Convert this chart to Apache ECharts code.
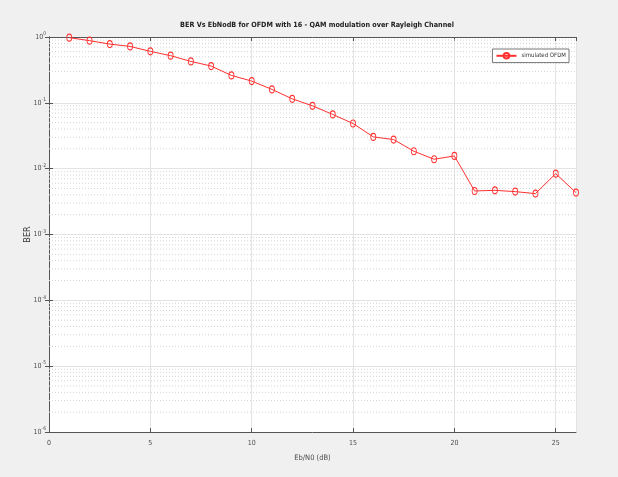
<!DOCTYPE html>
<html>
<head>
<meta charset="utf-8">
<script src="https://cdn.jsdelivr.net/npm/echarts@6/dist/echarts.min.js"></script>
<style>
  html, body { margin: 0; padding: 0; background: #f0f0f0; }
  #chart { width: 618px; height: 477px; }
</style>
</head>
<body>
<div id="chart"></div>
<script>
// Eb/N0 values (dB)
const ebno = [1, 2, 3, 4, 5, 6, 7, 8, 9, 10, 11, 12, 13, 14, 15, 16, 17, 18, 19, 20, 21, 22, 23, 24, 25, 26];
// simulated OFDM BER
const berSim = [0.977, 0.88, 0.78, 0.72, 0.605, 0.52, 0.426, 0.362, 0.261, 0.214, 0.16, 0.115, 0.09, 0.0666,
  0.0485, 0.0304, 0.0277, 0.0184, 0.0139, 0.0156, 0.00458, 0.00469, 0.00448, 0.00418, 0.0084, 0.00433];
const xTicks = [0, 5, 10, 15, 20, 25];
const yExponents = [0, -1, -2, -3, -4, -5, -6];

// dotted minor grid at 2..9 x 10^k (MATLAB style)
const minorGrid = [];
for (let e = -6; e < 0; e++) {
  for (let m = 2; m <= 9; m++) minorGrid.push(m * Math.pow(10, e));
}

const font = "DejaVu Sans Condensed, Liberation Sans, Arial, sans-serif";
const txt = "#4d4d4d";
const axisCol = "#555555";
const red = "#ff3030";

// one thin dotted series per minor grid value, spanning the x range
const gridSeries = minorGrid.map(v => ({
  name: "minor",
  type: "line",
  silent: true,
  symbol: "none",
  animation: false,
  z: 1,
  lineStyle: { color: "#d4d4d4", type: [1, 2], width: 1 },
  data: [[0, v], [26, v]]
}));

const chart = echarts.init(document.getElementById("chart"));

chart.setOption({
  backgroundColor: "#f0f0f0",
  animation: false,
  title: {
    text: "BER Vs EbNodB for OFDM with 16 - QAM modulation over Rayleigh Channel",
    left: 312,
    textAlign: "center",
    top: 17,
    textStyle: { fontFamily: font, fontSize: 7.2, fontWeight: "bold", color: "#222" }
  },
  legend: {
    right: 49,
    top: 49,
    orient: "vertical",
    backgroundColor: "#fff",
    borderColor: "#777",
    borderWidth: 1,
    borderRadius: 0,
    padding: [3, 3, 3, 3],
    itemWidth: 20,
    itemHeight: 7,
    itemGap: 4,
    textStyle: { fontFamily: font, fontSize: 6, color: "#333" },
    data: ["simulated OFDM"]
  },
  grid: { left: 49, right: 42, top: 37, bottom: 45, backgroundColor: "#fff", show: true, borderWidth: 0 },
  xAxis: [{
    type: "value",
    min: 0,
    max: 26,
    interval: 5,
    name: "Eb/N0 (dB)",
    nameLocation: "middle",
    nameGap: 22,
    nameTextStyle: { fontFamily: font, fontSize: 7.5, color: txt },
    axisLine: { show: true, lineStyle: { color: axisCol, width: 1 } },
    axisTick: { inside: true, length: 4, lineStyle: { color: axisCol } },
    axisLabel: {
      fontFamily: font, fontSize: 7, color: txt, margin: 8,
      showMaxLabel: false,
      formatter: v => (xTicks.includes(v) ? String(v) : "")
    },
    splitLine: { show: true, lineStyle: { color: "#e3e3e3", width: 1 } }
  }, {
    type: "value",
    position: "top",
    min: 0,
    max: 26,
    interval: 5,
    axisLine: { show: true, lineStyle: { color: axisCol, width: 1 } },
    axisTick: { inside: true, length: 4, lineStyle: { color: axisCol } },
    axisLabel: { show: false },
    splitLine: { show: false }
  }],
  yAxis: [{
    type: "log",
    logBase: 10,
    min: 1e-6,
    max: 1,
    interval: 1,
    name: "BER",
    nameLocation: "middle",
    nameGap: 17,
    nameMoveOverlap: false,
    nameRotate: 90,
    nameTextStyle: { fontFamily: font, fontSize: 9, color: "#333" },
    axisLine: { show: true, lineStyle: { color: axisCol, width: 1 } },
    axisTick: { inside: true, length: 4, lineStyle: { color: axisCol } },
    axisLabel: {
      margin: 3,
      formatter: v => {
        const e = Math.round(Math.log10(v));
        return yExponents.includes(e) ? "{b|10}{s|" + e + "}" : "";
      },
      rich: {
        b: { fontFamily: font, fontSize: 7, color: txt },
        s: { fontFamily: font, fontSize: 5, color: txt, padding: [0, 0, 6, 0] }
      }
    },
    splitLine: { show: true, lineStyle: { color: "#e3e3e3", width: 1 } }
  }, {
    type: "log",
    logBase: 10,
    min: 1e-6,
    max: 1,
    interval: 1,
    position: "right",
    axisLine: { show: true, lineStyle: { color: axisCol, width: 1 } },
    axisTick: { inside: true, length: 4, lineStyle: { color: axisCol } },
    axisLabel: { show: false },
    splitLine: { show: false }
  }],
  series: gridSeries.concat([{
    name: "simulated OFDM",
    type: "line",
    data: ebno.map((x, i) => [x, berSim[i]]),
    symbol: "circle",
    symbolSize: [5, 7],
    itemStyle: { color: "rgba(255,255,255,0)", borderColor: red, borderWidth: 1 },
    lineStyle: { color: red, width: 1 },
    z: 5
  }])
});
</script>
</body>
</html>
